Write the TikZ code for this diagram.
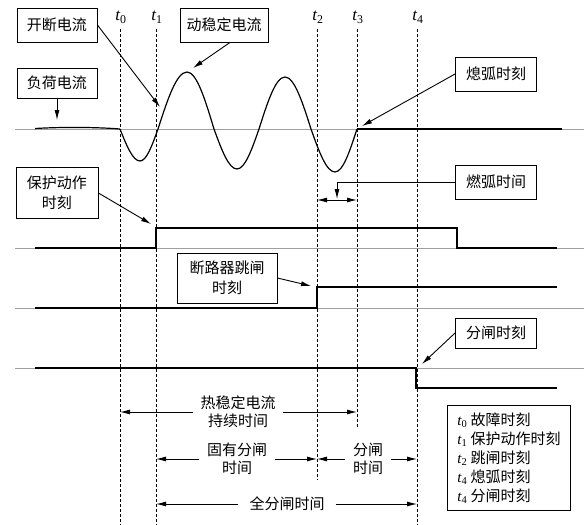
\documentclass[tikz,border=0pt]{standalone}
\usepackage{fontspec}
\setmainfont{Liberation Serif}
\newfontfamily\cjk{Noto Sans CJK SC}
\usetikzlibrary{arrows.meta}
\newcommand\tsym[1]{{\rmfamily\itshape t}\textsubscript{\rmfamily #1}}
\begin{document}
\begin{tikzpicture}[x=1pt,y=-1pt,
  axisline/.style={gray!75, line width=0.8pt},
  tline/.style={line width=0.5pt, dash pattern=on 3pt off 2pt},
  wave/.style={line width=1.2pt},
  sig/.style={line width=2.4pt},
  arr/.style={line width=0.9pt, -{Latex[length=10pt,width=5pt]}},
  dbl/.style={line width=0.9pt, {Latex[length=10pt,width=5pt]}-{Latex[length=10pt,width=5pt]}},
  lbl/.style={draw, line width=0.9pt, align=center, inner sep=0pt, font=\cjk\fontsize{15}{20}\selectfont},
  dimtxt/.style={align=center, inner sep=0pt, font=\cjk\fontsize{15}{18}\selectfont},
  tlab/.style={inner sep=0pt, font=\fontsize{17}{17}\selectfont}
]
\useasboundingbox (0,0) rectangle (587,525);

% time labels and dashed lines
\node[tlab] (lt0) at (121,17) {\tsym{0}};
\node[tlab] (lt1) at (157,17) {\tsym{1}};
\node[tlab] (lt2) at (318,17) {\tsym{2}};
\node[tlab] (lt3) at (358,17) {\tsym{3}};
\node[tlab] (lt4) at (418,17) {\tsym{4}};
\coordinate (t0a) at (120,29); \coordinate (t0b) at (120,525);
\coordinate (t1a) at (156,29); \coordinate (t1b) at (156,525);
\coordinate (t2a) at (317,29); \coordinate (t2b) at (317,480);
\coordinate (t3a) at (357,29); \coordinate (t3b) at (357,428);
\coordinate (t4a) at (417,29); \coordinate (t4b) at (417,525);
\draw[tline] (t0a) -- (t0b);
\draw[tline] (t1a) -- (t1b);
\draw[tline] (t2a) -- (t2b);
\draw[tline] (t3a) -- (t3b);
\draw[tline] (t4a) -- (t4b);

% axes
\coordinate (a1l) at (15,129); \coordinate (a1r) at (584,129);
\coordinate (a2l) at (15,248); \coordinate (a2r) at (584,248);
\coordinate (a3l) at (15,308); \coordinate (a3r) at (584,308);
\coordinate (a4l) at (15,368); \coordinate (a4r) at (584,368);
\draw[axisline] (a1l) -- (a1r);
\draw[axisline] (a2l) -- (a2r);
\draw[axisline] (a3l) -- (a3r);
\draw[axisline] (a4l) -- (a4r);

% current waveform
\draw[wave] (35,128.5) .. controls (60,127) and (95,127) .. (120,129);
\draw[wave] (120,129) sin (140,161) cos (158,129) sin (187,72) cos (214,129)
  sin (237,169) cos (259,129) sin (285,77) cos (311,129) sin (335,172) cos (357,129);
\draw[wave] (357,129) -- (562,129);

% signals
\draw[sig] (35,248) -- (156,248) -- (156,228) -- (457,228) -- (457,248) -- (557,248);
\draw[sig] (35,308) -- (317,308) -- (317,287) -- (557,287);
\draw[sig] (35,368) -- (416,368) -- (416,388) -- (557,388);

% label boxes
\node[lbl, minimum width=80, minimum height=34] (kd) at (57,25) {开断电流};
\node[lbl, minimum width=88, minimum height=34] (dw) at (224,25) {动稳定电流};
\node[lbl, minimum width=80, minimum height=30] (fh) at (57,83) {负荷电流};
\node[lbl, minimum width=81, minimum height=34] (xh) at (496,74) {熄弧时刻};
\node[lbl, minimum width=81, minimum height=34] (rh) at (496,182) {燃弧时间};
\node[lbl, minimum width=82, minimum height=51] (bh) at (57,193) {保护动作\\时刻};
\node[lbl, minimum width=100, minimum height=50] (dl) at (227,278) {断路器跳闸\\时刻};
\node[lbl, minimum width=81, minimum height=30] (fz) at (496,333) {分闸时刻};

\coordinate (kdT) at (160,107);
\coordinate (dwT) at (193,68);
\coordinate (fhT) at (57,120);
\coordinate (xhT) at (362,126);
\coordinate (rhK) at (337,182);
\coordinate (rhT) at (337,199);
\coordinate (rhL) at (317,200);
\coordinate (rhR) at (357,200);
\coordinate (bhT) at (151,224);
\coordinate (dlT) at (311,286);
\coordinate (fzT) at (422,364);
\draw[arr] (kd.east) -- (kdT);
\draw[arr] ([xshift=6pt]dw.south) -- (dwT);
\draw[arr] (fh.south) -- (fhT);
\draw[arr] (xh.west) -- (xhT);
\draw[arr] (rh.west) -- (rhK) -- (rhT);
\draw[dbl] (rhL) -- (rhR);
\draw[arr] (bh.east) -- (bhT);
\draw[arr] (dl.east) -- (dlT);
\draw[arr] (fz.west) -- (fzT);

% dimension arrows
\node[dimtxt] (hw) at (238,412) {热稳定电流\\持续时间};
\node[dimtxt] (gy) at (237,459) {固有分闸\\时间};
\node[dimtxt] (fs) at (368,459) {分闸\\时间};
\node[dimtxt] (qf) at (287,504) {全分闸时间};
\coordinate (hwL) at (120,412); \coordinate (hwR) at (357,412);
\coordinate (gyL) at (156,459); \coordinate (gyR) at (317,459);
\coordinate (fsL) at (317,459); \coordinate (fsR) at (417,459);
\coordinate (qfL) at (156,504); \coordinate (qfR) at (417,504);
\draw[arr, shorten <=7pt] (hw.west) -- (hwL);
\draw[arr, shorten <=7pt] (hw.east) -- (hwR);
\draw[arr, shorten <=8pt] (gy.west) -- (gyL);
\draw[arr, shorten <=8pt] (gy.east) -- (gyR);
\draw[arr, shorten <=8pt] (fs.west) -- (fsL);
\draw[arr, shorten <=8pt] (fs.east) -- (fsR);
\draw[arr, shorten <=11pt] (qf.west) -- (qfL);
\draw[arr, shorten <=11pt] (qf.east) -- (qfR);

% legend
\node[draw, line width=0.9pt, anchor=north west, align=left, inner xsep=10pt, inner ysep=7pt,
  minimum width=123, font=\cjk\fontsize{15}{19}\selectfont] (leg) at (447,405)
  {\tsym{0} 故障时刻\\ \tsym{1} 保护动作时刻\\ \tsym{2} 跳闸时刻\\ \tsym{4} 熄弧时刻\\ \tsym{4} 分闸时刻};
\end{tikzpicture}
\end{document}
